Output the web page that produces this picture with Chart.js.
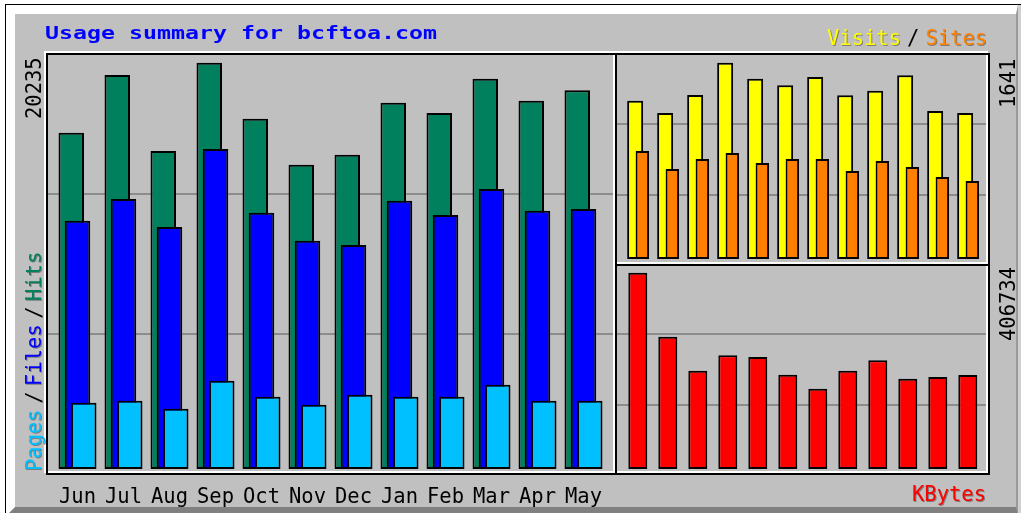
<!DOCTYPE html>
<html>
<head>
<meta charset="utf-8">
<title>Usage summary for bcftoa.com</title>
<script src="https://cdn.jsdelivr.net/npm/chart.js@4/dist/chart.umd.min.js"></script>
<style>
  html, body { margin: 0; padding: 0; background: #fff; }
  #page { position: relative; width: 1021px; height: 513px; overflow: hidden; font-family: 'DejaVu Sans Mono', monospace; }
  #page div, #page canvas { position: absolute; box-sizing: border-box; }
  .edge { left: 5px; top: 4px; width: 1016px; height: 520px; border-top: 1px solid #000; border-left: 1px solid #000; }
  .panel { left: 6px; top: 5px; width: 1012px; height: 511px; background: #c0c0c0;
           border-style: solid; border-width: 9px 2px 9px 9px; border-color: #fff #9a9a9a #808080 #fff; }
  .strip { left: 1018px; top: 5px; width: 3px; height: 508px; background: #d0d0d0; }
  .fw { border: 2px solid #fff; }
  .fk { border: 2px solid #000; }
  .txt { font-size: 20.5px; line-height: 1; white-space: nowrap; }
  .up { transform-origin: 0 0; transform: rotate(-90deg); }
  .title { left: 45px; top: 24px; font-size: 18px; font-weight: bold; line-height: 1; color: #0000ff;
           white-space: nowrap; transform-origin: 0 0; transform: scaleX(1.292); }
  .sh { text-shadow: 1px 1px 0 rgba(70, 70, 70, 0.55); }
  .up .sh { text-shadow: -1px 1px 0 rgba(70, 70, 70, 0.55); }
  .sl { color: #000; margin: 0 6px; }
  .upsl { color: #000; margin: 0 5.5px; }
</style>
</head>
<body>
<div id="page">
  <div class="edge"></div>
  <div class="panel"></div>
  <div class="strip"></div>

  <canvas id="cvMain" width="571" height="459" style="left:46px; top:53px"></canvas>
  <canvas id="cvVisits" width="375" height="213" style="left:615px; top:53px"></canvas>
  <canvas id="cvKb" width="375" height="211" style="left:615px; top:264px"></canvas>

  <div class="fw" style="left:44px; top:51px; width:571px; height:422px"></div>
  <div class="fw" style="left:613px; top:51px; width:375px; height:213px"></div>
  <div class="fw" style="left:613px; top:262px; width:375px; height:211px"></div>
  <div class="fk" style="left:46px; top:53px; width:571px; height:422px"></div>
  <div class="fk" style="left:615px; top:53px; width:375px; height:213px"></div>
  <div class="fk" style="left:615px; top:264px; width:375px; height:211px"></div>

  <div class="title">Usage summary for bcftoa.com</div>

  <div class="txt" style="left:827px; top:27.7px"><span class="sh" style="color:#ffff00">Visits</span><span class="sl">/</span><span class="sh" style="color:#ff8000">Sites</span></div>
  <div class="txt sh" style="left:912px; top:483.7px; color:#ff0000">KBytes</div>

  <div class="txt up" style="left:24.4px; top:471px"><span class="sh" style="color:#00c0ff">Pages</span><span class="upsl">/</span><span class="sh" style="color:#0000ff">Files</span><span class="upsl">/</span><span class="sh" style="color:#00805c">Hits</span></div>

  <div id="peakHits" class="txt up" style="left:24.4px; top:118.7px; color:#000"></div>
  <div id="peakVisits" class="txt up" style="left:997.7px; top:108.4px; color:#000"></div>
  <div id="peakKb" class="txt up" style="left:997.7px; top:341px; color:#000"></div>
</div>

<script>
const months = ['Jun', 'Jul', 'Aug', 'Sep', 'Oct', 'Nov', 'Dec', 'Jan', 'Feb', 'Mar', 'Apr', 'May'];
const hits = [16748, 19621, 15836, 20235, 17445, 15154, 15652, 18242, 17729, 19437, 18341, 18859];
const files = [12365, 13446, 12052, 15936, 12764, 11369, 11155, 13361, 12649, 13944, 12863, 12948];
const pages = [3302, 3401, 3003, 4397, 3601, 3202, 3700, 3601, 3601, 4198, 3401, 3401];
const visits = [1323, 1220, 1371, 1641, 1507, 1452, 1521, 1368, 1407, 1536, 1237, 1220];
const sites = [903, 752, 836, 886, 802, 836, 836, 736, 819, 769, 685, 652];
const kbytes = [406734, 274131, 203680, 235589, 232064, 195391, 166383, 203680, 225229, 187103, 190624, 194768];

const peakHits = Math.max(...hits);
const peakVisits = Math.max(...visits);
const peakKb = Math.max(...kbytes);

const gridGray = '#8c8c8c';
const monoFont = { family: 'DejaVu Sans Mono', size: 20.5 };

document.getElementById('peakHits').textContent = peakHits;
document.getElementById('peakVisits').textContent = peakVisits;
document.getElementById('peakKb').textContent = peakKb;

// value range so that 0 sits baseGap px above the frame bottom and the peak topGap px below its top
function yRange(peak, areaH, baseGap, topGap) {
  const perPx = peak / (areaH - baseGap - topGap);
  return { min: -baseGap * perPx, max: peak + topGap * perPx };
}

// month index range so the first group centre lands firstCenter px in from the frame
function xRange(firstCenter, areaW, pitch) {
  const lo = -firstCenter / pitch;
  return { min: lo, max: lo + areaW / pitch };
}

// webalizer paints the first series at the back, chart.js the other way round
const drawInOrder = {
  id: 'drawInOrder',
  beforeDatasetsDraw(chart) {
    chart.getSortedVisibleDatasetMetas().forEach(meta => meta.controller.draw());
    return false;
  }
};

function barSet(label, values, color, cat, bar) {
  return {
    label: label,
    data: values.map((v, i) => ({ x: i, y: v })),
    backgroundColor: color,
    borderColor: '#000',
    borderWidth: 2,
    borderSkipped: false,
    categoryPercentage: cat,
    barPercentage: bar
  };
}

function chartOptions(xr, yr, showMonths) {
  return {
    responsive: false,
    animation: false,
    events: [],
    layout: { padding: 0 },
    plugins: { legend: { display: false }, tooltip: { enabled: false } },
    scales: {
      x: {
        type: 'linear',
        offset: false,
        min: xr.min,
        max: xr.max,
        display: showMonths,
        grid: { display: false },
        border: { display: false },
        ticks: {
          stepSize: 1,
          includeBounds: false,
          autoSkip: false,
          maxRotation: 0,
          padding: 2,
          color: '#000',
          font: monoFont,
          callback: v => months[v]
        },
        afterFit: s => { s.height = showMonths ? 37 : 0; }
      },
      y: {
        min: yr.min,
        max: yr.max,
        ticks: { display: false, count: 4 },
        grid: {
          color: c => (c.index === 1 || c.index === 2) ? gridGray : 'rgba(0,0,0,0)',
          lineWidth: 2,
          drawTicks: false
        },
        border: { display: false },
        afterFit: s => { s.width = 0; }
      }
    }
  };
}

new Chart(document.getElementById('cvMain'), {
  type: 'bar',
  data: {
    datasets: [
      barSet('Hits', hits, '#00805c', 0.4076, 4.08),
      barSet('Files', files, '#0000ff', 0.4076, 4.08),
      barSet('Pages', pages, '#00c0ff', 0.4076, 4.08)
    ]
  },
  options: chartOptions(xRange(31.5, 571, 46), yRange(peakHits, 422, 6, 9.7), true),
  plugins: [drawInOrder]
});

new Chart(document.getElementById('cvVisits'), {
  type: 'bar',
  data: {
    datasets: [
      barSet('Visits', visits, '#ffff00', 0.48, 2.22),
      barSet('Sites', sites, '#ff8000', 0.48, 1.875)
    ]
  },
  options: chartOptions(xRange(23.75, 375, 30), yRange(peakVisits, 213, 7, 9.7), false),
  plugins: [drawInOrder]
});

new Chart(document.getElementById('cvKb'), {
  type: 'bar',
  data: {
    datasets: [
      barSet('KBytes', kbytes, '#ff0000', 1, 0.633)
    ]
  },
  options: chartOptions(xRange(22.8, 375, 30), yRange(peakKb, 211, 6, 8.7), false)
});
</script>
</body>
</html>
